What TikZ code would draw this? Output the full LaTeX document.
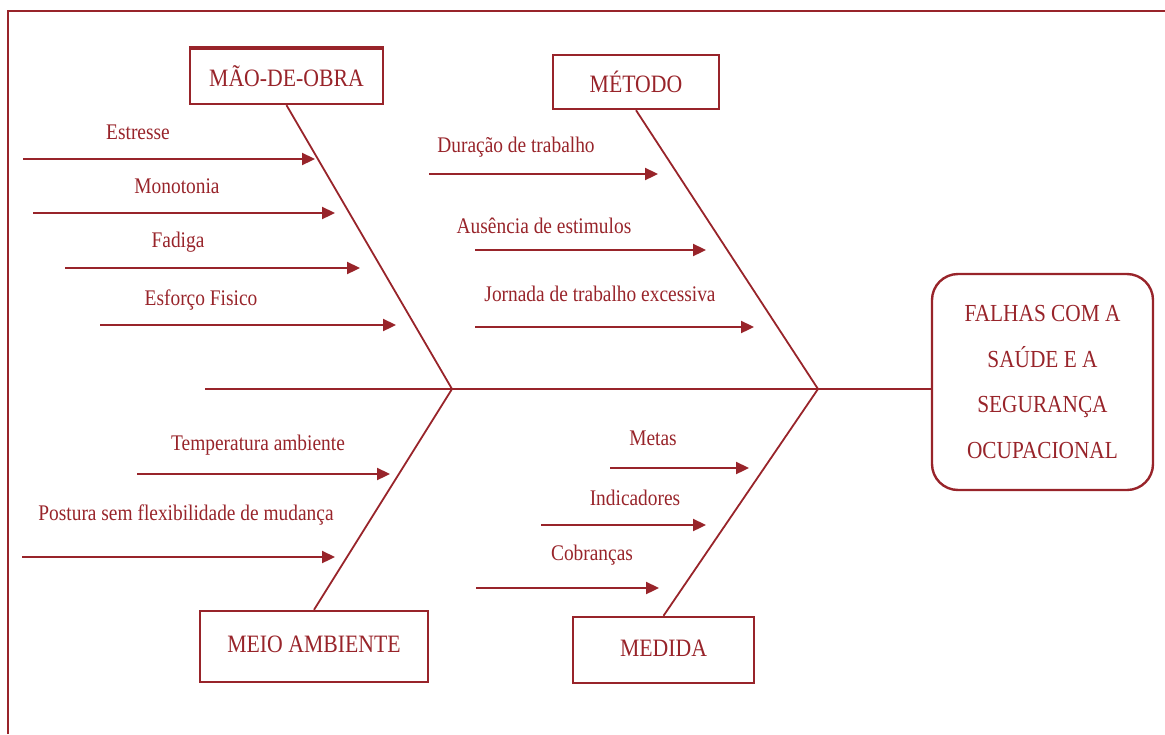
\documentclass[tikz,border=0pt]{standalone}
\usepackage{graphicx}
\usepackage{fontspec}
\setmainfont{Liberation Serif}
\usetikzlibrary{arrows.meta}
\definecolor{ink}{RGB}{152,36,42}
\newcommand{\squish}[1]{\scalebox{0.87}[1]{#1}}
\begin{document}
\begin{tikzpicture}[x=1pt,y=-1pt,
  every node/.style={text=ink},
  catbox/.style={draw=ink,line width=2.4pt,inner sep=0pt,font=\fontsize{25}{28}\selectfont},
  effbox/.style={draw=ink,line width=2.4pt,rounded corners=26pt,inner sep=0pt,align=center,
     minimum width=221pt,minimum height=216pt,font=\fontsize{24.5}{45.7}\selectfont},
  lbl/.style={inner sep=0pt,font=\fontsize{22.3}{25}\selectfont},
  cause/.style={draw=ink,line width=2.3pt,-{Triangle[length=13pt,width=12pt]}},
  bone/.style={draw=ink,line width=1.8pt},
  spine/.style={draw=ink,line width=2.3pt},
  frameline/.style={draw=ink,line width=2.2pt}]
\useasboundingbox (0,0) rectangle (1165,734);
% frame
\coordinate (fa) at (8,734);
\coordinate (fb) at (8,11);
\coordinate (fc) at (1165,11);
\draw[frameline] (fa) -- (fb) -- (fc);
% category boxes
\node[catbox,minimum width=193pt,minimum height=55pt] (mao) at (286.5,76.5) {\squish{MÃO-DE-OBRA}};
\draw[ink,line width=4pt] (mao.north west) -- (mao.north east);
\node[catbox,minimum width=166pt,minimum height=54pt] (met) at (636,82) {\squish{MÉTODO}};
\node[catbox,minimum width=228pt,minimum height=71pt] (mei) at (314,646.5) {\raisebox{4pt}{\squish{MEIO AMBIENTE}}};
\node[catbox,minimum width=181pt,minimum height=66pt] (med) at (663.5,650) {\raisebox{4pt}{\squish{MEDIDA}}};
% effect
\node[effbox] (eff) at (1042.5,382) {\squish{FALHAS COM A}\\\squish{SAÚDE E A}\\\squish{SEGURANÇA}\\\squish{OCUPACIONAL}};
% spine and bones
\coordinate (s0) at (205,389);
\coordinate (j1) at (452,389);
\coordinate (j2) at (818,389);
\draw[spine] (s0) -- (j1) -- (j2) -- (j2 -| eff.west);
\draw[bone] (mao.south) -- (j1);
\draw[bone] (met.south) -- (j2);
\draw[bone] (mei.north) -- (j1);
\draw[bone] (med.north) -- (j2);
% Mao-de-obra causes
\coordinate (a1) at (23,159);  \coordinate (b1) at (315,159);
\coordinate (a2) at (33,213);  \coordinate (b2) at (335,213);
\coordinate (a3) at (65,268);  \coordinate (b3) at (360,268);
\coordinate (a4) at (100,325); \coordinate (b4) at (396,325);
\draw[cause] (a1) -- (b1);
\draw[cause] (a2) -- (b2);
\draw[cause] (a3) -- (b3);
\draw[cause] (a4) -- (b4);
\node[lbl] (t1) at (138,132) {\squish{Estresse}};
\node[lbl] (t2) at (177,186) {\squish{Monotonia}};
\node[lbl] (t3) at (178,242) {\squish{Fadiga}};
\node[lbl] (t4) at (201,300) {\squish{Esforço Fisico}};
% Metodo causes
\coordinate (a5) at (429,174); \coordinate (b5) at (658,174);
\coordinate (a6) at (475,250); \coordinate (b6) at (706,250);
\coordinate (a7) at (475,327); \coordinate (b7) at (754,327);
\draw[cause] (a5) -- (b5);
\draw[cause] (a6) -- (b6);
\draw[cause] (a7) -- (b7);
\node[lbl] (t5) at (516,147) {\squish{Duração de trabalho}};
\node[lbl] (t6) at (544,226) {\squish{Ausência de estimulos}};
\node[lbl] (t7) at (600,294) {\squish{Jornada de trabalho excessiva}};
% Meio ambiente causes
\coordinate (a8) at (137,474); \coordinate (b8) at (390,474);
\coordinate (a9) at (22,557);  \coordinate (b9) at (335,557);
\draw[cause] (a8) -- (b8);
\draw[cause] (a9) -- (b9);
\node[lbl] (t8) at (258,445) {\squish{Temperatura ambiente}};
\node[lbl] (t9) at (186,515) {\squish{Postura sem flexibilidade de mudança}};
% Medida causes
\coordinate (a10) at (610,468); \coordinate (b10) at (749,468);
\coordinate (a11) at (541,525); \coordinate (b11) at (706,525);
\coordinate (a12) at (476,588); \coordinate (b12) at (659,588);
\draw[cause] (a10) -- (b10);
\draw[cause] (a11) -- (b11);
\draw[cause] (a12) -- (b12);
\node[lbl] (t10) at (653,438) {\squish{Metas}};
\node[lbl] (t11) at (635,498) {\squish{Indicadores}};
\node[lbl] (t12) at (592,555) {\squish{Cobranças}};
\end{tikzpicture}
\end{document}
